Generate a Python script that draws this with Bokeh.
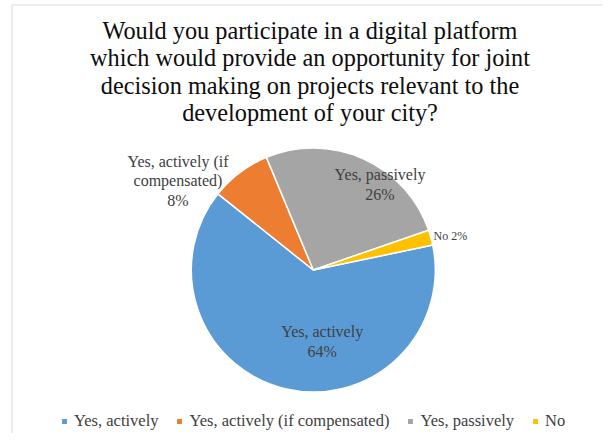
import math
from bokeh.plotting import figure
from bokeh.models import ColumnDataSource, Range1d
from bokeh.core.properties import value
from bokeh.embed import file_html
from bokeh.resources import INLINE

# ---- data ----
categories = ["Yes, actively", "Yes, actively (if compensated)", "Yes, passively", "No"]
percents = [64, 8, 26, 2]
colors = ["#5B9BD5", "#ED7D31", "#A5A5A5", "#FFC000"]
title_lines = [
    "Would you participate in a digital platform",
    "which would provide an opportunity for joint",
    "decision making on projects relevant to the",
    "development of your city?",
]
label_lines = [
    ["Yes, actively", "64%"],
    ["Yes, actively (if", "compensated)", "8%"],
    ["Yes, passively", "26%"],
    ["No 2%"],
]

# ---- layout (canvas pixel space, y measured upward from bottom) ----
W, H = 603, 433
FONT = "'Liberation Serif', 'Times New Roman', serif"
cx, cy, R = 312.8, H - 269.5, 122.0
start_deg = 11.8
MID = 0.3375  # distance from alphabetic baseline to em-box middle, in em

total = sum(percents)
starts, ends = [], []
a = math.radians(start_deg)
for v in percents:
    sweep = 2 * math.pi * v / total
    starts.append(a)
    ends.append(a - sweep)
    a -= sweep

src = ColumnDataSource(dict(cat=categories, start=starts, end=ends, color=colors,
                            x=[cx] * 4, y=[cy] * 4))

p = figure(width=W, height=H, output_backend="svg", toolbar_location=None,
           x_range=Range1d(0, W), y_range=Range1d(0, H),
           min_border=0, min_border_left=0, min_border_right=0,
           min_border_top=0, min_border_bottom=0)
p.axis.visible = False
p.grid.visible = False
p.outline_line_color = None
p.background_fill_color = "white"
p.border_fill_color = "white"

# chart-area border (left and top visible)
p.line(x=[11.5, 11.5], y=[0, H - 4.5], line_color="#D9D9D9", line_width=1)
p.line(x=[11.5, W], y=[H - 4.5, H - 4.5], line_color="#D9D9D9", line_width=1)

p.wedge(x="x", y="y", radius=R, start_angle="start", end_angle="end",
        direction="clock", fill_color="color", line_color="white", line_width=1.5,
        source=src, legend_field="cat")

# title
t_fs = 24.3
t_base = [38.3, 65.6, 92.9, 120.2]
p.text(x=[309.5] * len(title_lines), y=[H - (b - MID * t_fs) for b in t_base], text=title_lines,
       text_font=value(FONT), text_font_size=value(f"{t_fs}px"), text_color="#0D0D0D",
       text_align="center", text_baseline="middle")

# data labels
label_pos = [
    (321.7, [336.7, 356.0], "center", 16),
    (177.5, [166.5, 185.5, 205.0], "center", 16),
    (379.5, [179.5, 199.3], "center", 16),
    (433.0, [239.8], "left", 12),
]
for lines, (lx, bases, align, fs) in zip(label_lines, label_pos):
    p.text(x=[lx] * len(lines), y=[H - (b - MID * fs) for b in bases], text=lines,
           text_font=value(FONT), text_font_size=value(f"{fs}px"), text_color="#404040",
           text_align=align, text_baseline="middle")

lg = p.legend[0]
lg.orientation = "horizontal"
lg.location = (60, 2)
lg.glyph_width = 8
lg.glyph_height = 8
lg.label_standoff = 6
lg.spacing = 17
lg.padding = 0
lg.margin = 0
lg.label_height = 20
lg.label_text_font = FONT
lg.label_text_font_size = "16.5px"
lg.label_text_color = "#404040"
lg.border_line_alpha = 0
lg.background_fill_alpha = 0

open("out.html", "w").write(file_html(p, INLINE))
